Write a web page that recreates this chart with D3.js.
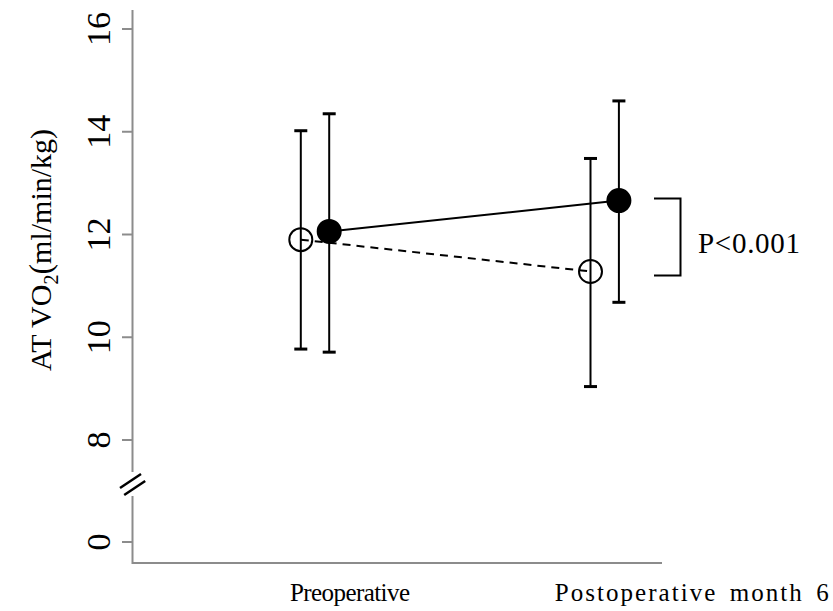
<!DOCTYPE html>
<html>
<head>
<meta charset="utf-8">
<script src="https://cdn.jsdelivr.net/npm/d3@7"></script>
<style>
  body { margin: 0; background: #fff; }
  text { font-family: "Liberation Serif", "DejaVu Serif", serif; fill: #000; }
</style>
</head>
<body>
<script>
let w = 833;
let h = 611;

// data
let categories = ["Preoperative", "Postoperative month 6"];
let meanOpen = [11.9, 11.28];
let lowerOpen = [9.77, 9.04];
let upperOpen = [14.02, 13.48];
let meanFilled = [12.06, 12.66];
let lowerFilled = [9.71, 10.68];
let upperFilled = [14.35, 14.6];
let yTicks = [8, 10, 12, 14, 16];
let yLowTicks = [0];
let bracketRange = [11.2, 12.7];
let pLabel = "P<0.001";

let svg = d3.select("body")
            .append("svg")
            .attr("width", w)
            .attr("height", h);

let axisColor = "#8c8c8c";

let x = d3.scaleLinear().domain([0, 1]).range([315, 604.7]);
let y = d3.scaleLinear().domain([8, 16]).range([440, 29]);
let yLow = d3.scaleLinear().domain([0, 1]).range([542, 542 - 51.4]);
let dodge = 14.2;

// y axis, upper part
svg.append("line")
   .attr("x1", 132.5).attr("x2", 132.5)
   .attr("y1", 10).attr("y2", 472)
   .attr("stroke", axisColor).attr("stroke-width", 2);
// lower part + x axis
svg.append("path")
   .attr("d", `M132.5,496 L132.5,563 L662,563`)
   .attr("fill", "none")
   .attr("stroke", axisColor).attr("stroke-width", 2);

// break marks
svg.selectAll(".brk")
   .data([0, 7])
   .enter().append("line")
   .attr("x1", d => 120 + d * 0.6).attr("x2", d => 141 + d * 0.6)
   .attr("y1", d => 488 + d).attr("y2", d => 474 + d)
   .attr("stroke", "#000").attr("stroke-width", 2.5);

// ticks
function drawTicks(vals, sc) {
  vals.forEach(v => {
    svg.append("line")
       .attr("x1", 122).attr("x2", 132.5)
       .attr("y1", sc(v)).attr("y2", sc(v))
       .attr("stroke", axisColor).attr("stroke-width", 2);
    svg.append("text")
       .attr("transform", `translate(110,${sc(v)}) rotate(-90)`)
       .attr("text-anchor", "middle")
       .attr("font-size", 34)
       .text(v);
  });
}
drawTicks(yTicks, y);
drawTicks(yLowTicks, yLow);

// y title
let title = svg.append("text")
   .attr("transform", "translate(51,250) rotate(-90)")
   .attr("text-anchor", "middle")
   .attr("font-size", 30);
title.append("tspan").text("AT VO");
title.append("tspan").attr("font-size", 20).attr("dy", 7).text("2");
title.append("tspan").attr("dy", -7).attr("font-size", 32).text("(");
title.append("tspan").text("ml/min/kg)");

// x labels
let labelOffset = [35, 87];
let labelLength = [120, 274];
svg.selectAll(".xlab")
   .data(categories)
   .enter().append("text")
   .attr("x", (d, i) => x(i) + labelOffset[i])
   .attr("y", 601)
   .attr("text-anchor", "middle")
   .attr("font-size", 25)
   .attr("word-spacing", 4)
   .attr("textLength", (d, i) => labelLength[i])
   .attr("lengthAdjust", "spacing")
   .text(d => d);

let series = [
  {mean: meanOpen, lo: lowerOpen, hi: upperOpen, off: -dodge, fill: "#fff", dash: "8,6"},
  {mean: meanFilled, lo: lowerFilled, hi: upperFilled, off: dodge, fill: "#000", dash: null}
];

series.forEach(s => {
  let idx = d3.range(categories.length);
  // connecting line
  svg.append("path")
     .datum(idx)
     .attr("d", d3.line().x(i => x(i) + s.off).y(i => y(s.mean[i])))
     .attr("fill", "none")
     .attr("stroke", "#000")
     .attr("stroke-width", 2)
     .attr("stroke-dasharray", s.dash);
  // error bars
  svg.selectAll(null)
     .data(idx)
     .enter().append("line")
     .attr("x1", i => x(i) + s.off).attr("x2", i => x(i) + s.off)
     .attr("y1", i => y(s.lo[i])).attr("y2", i => y(s.hi[i]))
     .attr("stroke", "#000").attr("stroke-width", 2);
  ["lo", "hi"].forEach(k => {
    svg.selectAll(null)
       .data(idx)
       .enter().append("line")
       .attr("x1", i => x(i) + s.off - 6.5).attr("x2", i => x(i) + s.off + 6.5)
       .attr("y1", i => y(s[k][i])).attr("y2", i => y(s[k][i]))
       .attr("stroke", "#000").attr("stroke-width", 3);
  });
});

// points on top
series.forEach(s => {
  svg.selectAll(null)
     .data(d3.range(categories.length))
     .enter().append("circle")
     .attr("cx", i => x(i) + s.off)
     .attr("cy", i => y(s.mean[i]))
     .attr("r", 11.5)
     .attr("fill", s.fill === "#fff" ? "none" : "#000")
     .attr("stroke", "#000")
     .attr("stroke-width", 2);
});

// bracket
svg.append("path")
   .attr("d", `M654,${y(bracketRange[1])} L680.5,${y(bracketRange[1])} L680.5,${y(bracketRange[0])} L654,${y(bracketRange[0])}`)
   .attr("fill", "none")
   .attr("stroke", "#000")
   .attr("stroke-width", 2);

svg.append("text")
   .attr("x", 698)
   .attr("y", 253)
   .attr("font-size", 29)
   .attr("textLength", 102)
   .attr("lengthAdjust", "spacing")
   .text(pLabel);
</script>
</body>
</html>
